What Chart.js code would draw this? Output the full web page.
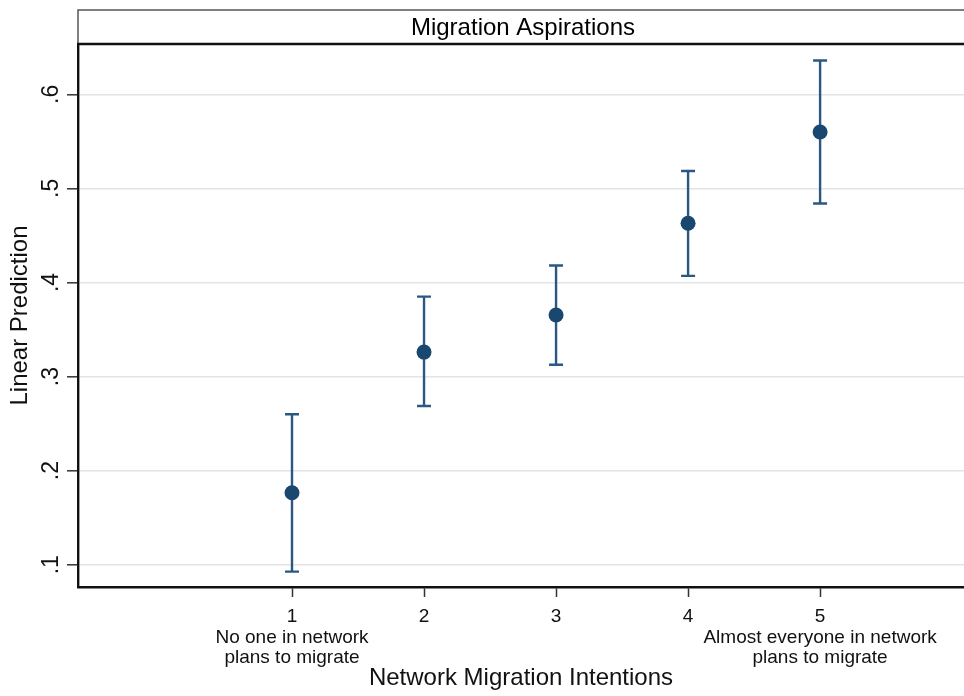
<!DOCTYPE html>
<html>
<head>
<meta charset="utf-8">
<script src="https://cdn.jsdelivr.net/npm/chart.js@4.4.0/dist/chart.umd.min.js"></script>
<style>
  html, body { margin: 0; padding: 0; background: #ffffff; overflow: hidden; }
  #wrap { width: 964px; height: 696px; position: relative; }
</style>
</head>
<body>
<div id="wrap"><canvas id="c" width="964" height="696"></canvas></div>
<script>
// ---- data ----
const categories = [1, 2, 3, 4, 5];
const predictions = [0.1765, 0.326, 0.3654, 0.4629, 0.560];
const ciLower = [0.0926, 0.2687, 0.3126, 0.407, 0.484];
const ciUpper = [0.260, 0.385, 0.418, 0.5185, 0.636];
const xTickValues = [1, 2, 3, 4, 5];
const xTickLabels = [
  ['1', 'No one in network', 'plans to migrate'],
  ['2'],
  ['3'],
  ['4'],
  ['5', 'Almost everyone in network', 'plans to migrate']
];
const yTickValues = [0.1, 0.2, 0.3, 0.4, 0.5, 0.6];
const yTickLabels = ['.1', '.2', '.3', '.4', '.5', '.6'];
const chartTitle = 'Migration Aspirations';
const xTitle = 'Network Migration Intentions';
const yTitle = 'Linear Prediction';

const FONT = '"Liberation Sans", Arial, sans-serif';
const NAVY = '#1a476f';
const BAR = '#2a5783';

const errorBars = {
  id: 'errorBars',
  beforeDatasetsDraw(chart) {
    const ctx = chart.ctx;
    const xs = chart.scales.x, ys = chart.scales.y;
    ctx.save();
    ctx.strokeStyle = BAR;
    ctx.lineWidth = 2.4;
    ctx.lineCap = 'butt';
    categories.forEach((c, i) => {
      const px = xs.getPixelForValue(c);
      const lo = ys.getPixelForValue(ciLower[i]);
      const hi = ys.getPixelForValue(ciUpper[i]);
      ctx.beginPath();
      ctx.moveTo(px, lo); ctx.lineTo(px, hi);
      ctx.moveTo(px - 7, lo); ctx.lineTo(px + 7, lo);
      ctx.moveTo(px - 7, hi); ctx.lineTo(px + 7, hi);
      ctx.stroke();
    });
    ctx.restore();
  }
};

const titleBox = {
  id: 'titleBox',
  afterDraw(chart) {
    const ctx = chart.ctx;
    const a = chart.chartArea;
    const top = 10, bottom = a.top;
    const right = a.right + 4;
    ctx.save();
    ctx.fillStyle = '#ffffff';
    ctx.fillRect(a.left, top, right - a.left, bottom - top);
    ctx.strokeStyle = '#555555';
    ctx.lineWidth = 1.5;
    ctx.beginPath();
    ctx.moveTo(a.left, bottom); ctx.lineTo(a.left, top); ctx.lineTo(right, top);
    ctx.stroke();
    ctx.strokeStyle = '#111111';
    ctx.lineWidth = 2.4;
    ctx.beginPath();
    ctx.moveTo(a.left - 1, bottom); ctx.lineTo(right, bottom);
    ctx.stroke();
    ctx.fillStyle = '#000000';
    ctx.font = '24px ' + FONT;
    ctx.textAlign = 'center';
    ctx.textBaseline = 'middle';
    ctx.fillText(chartTitle, (a.left + right) / 2, (top + bottom) / 2 + 1);
    ctx.restore();
  }
};

new Chart(document.getElementById('c'), {
  type: 'scatter',
  data: {
    datasets: [{
      data: categories.map((c, i) => ({ x: c, y: predictions[i] })),
      backgroundColor: NAVY,
      borderColor: NAVY,
      borderWidth: 0,
      pointRadius: 7.5,
      pointHoverRadius: 7.5
    }]
  },
  options: {
    responsive: false,
    animation: false,
    events: [],
    layout: { autoPadding: false, padding: { top: 44, right: 0, bottom: 0, left: 0 } },
    plugins: { legend: { display: false }, tooltip: { enabled: false }, title: { display: false } },
    scales: {
      x: {
        type: 'linear',
        min: -0.621,
        max: 6.09,
        afterBuildTicks: (s) => { s.ticks = xTickValues.map(v => ({ value: v })); },
        afterFit: (s) => { s.height = 109; },
        grid: { drawOnChartArea: false, drawTicks: true, tickLength: 10, tickColor: '#333333', tickWidth: 1.5 },
        border: { display: true, color: '#111111', width: 2.4 },
        ticks: {
          autoSkip: false, minRotation: 0, maxRotation: 0, padding: 10,
          color: '#111111',
          font: { family: FONT, size: 19, lineHeight: '20.5px' },
          callback: (v, i) => xTickLabels[i]
        },
        title: {
          display: true, text: xTitle, color: '#111111',
          font: { family: FONT, size: 24 }, padding: { top: 0, bottom: 3 }
        }
      },
      y: {
        type: 'linear',
        min: 0.0763,
        max: 0.6535,
        afterBuildTicks: (s) => { s.ticks = yTickValues.map(v => ({ value: v })); },
        afterFit: (s) => { s.width = 78; },
        grid: { drawOnChartArea: true, color: '#e4e4e4', lineWidth: 1.6, drawTicks: true, tickLength: 11, tickColor: '#333333', tickWidth: 1.5 },
        border: { display: true, color: '#111111', width: 2.4 },
        ticks: {
          minRotation: 90, maxRotation: 90, crossAlign: 'center', padding: 6,
          color: '#111111',
          font: { family: FONT, size: 23 },
          callback: (v, i) => yTickLabels[i]
        },
        title: {
          display: true, text: yTitle, color: '#111111',
          font: { family: FONT, size: 24 }, padding: { top: 6, bottom: 0 }
        }
      }
    }
  },
  plugins: [errorBars, titleBox]
});
</script>
</body>
</html>
